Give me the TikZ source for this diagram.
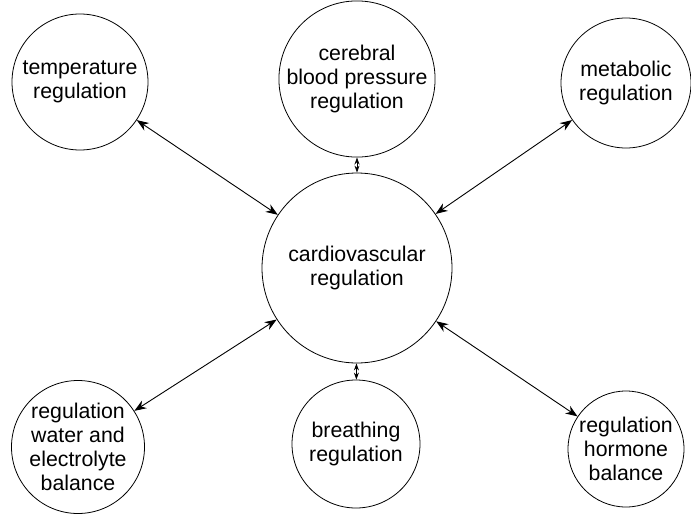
\documentclass[tikz,border=0pt]{standalone}
\usepackage{fontspec}
\setmainfont{Liberation Sans}
\usetikzlibrary{arrows.meta}

\tikzset{
	bubble/.style={draw, circle, inner sep=0pt, align=center, line width=0.8pt,
		font=\fontsize{21.3}{24}\selectfont},
	link/.style={<->, >={Stealth[length=12pt, width=9pt]}, line width=0.9pt},
	shortlink/.style={<->, >={Stealth[length=7pt, width=5pt]}, line width=0.8pt}
}

\begin{document}
\begin{tikzpicture}[x=1pt, y=-1pt]
			\useasboundingbox (0,0) rectangle (691,514);
			
			\node[bubble, minimum size=190pt] (cardio) at (357,268) {cardiovascular\\regulation};
			
			\node[bubble, minimum size=136pt] (temp) at (80,82) {temperature\\regulation};
			\node[bubble, minimum size=144pt] (cerebral) at (357,79) {cerebral\\blood pressure\\regulation};
			\node[bubble, minimum size=130pt] (metab) at (626,83) {metabolic\\regulation};
			
			\node[bubble, minimum size=133pt] (water) at (78,447) {regulation\\water and\\electrolyte\\balance};
			\node[bubble, minimum size=128pt] (breath) at (356,444) {breathing\\regulation};
			\node[bubble, minimum size=116pt] (hormone) at (626,449) {regulation\\hormone\\balance};
			
			% verbindungen zum zentrum
			\draw[link] (temp) -- (cardio);
			\draw[link] (metab) -- (cardio);
			\draw[link] (water) -- (cardio);
			\draw[link] (hormone) -- (cardio);
			\draw[shortlink] (cerebral) -- (cardio);
			\draw[shortlink] (breath) -- (cardio);
		\end{tikzpicture}
\end{document}
